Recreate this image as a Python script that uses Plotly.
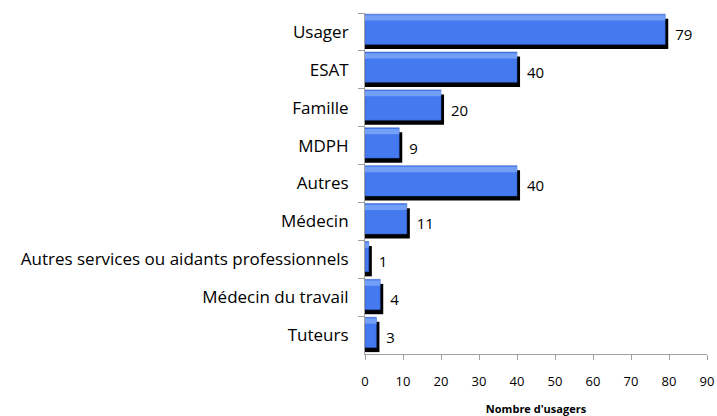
import plotly.graph_objects as go

categories = ["Usager", "ESAT", "Famille", "MDPH", "Autres", "Médecin",
              "Autres services ou aidants professionnels", "Médecin du travail", "Tuteurs"]
values = [79, 40, 20, 9, 40, 11, 1, 4, 3]
x_ticks = [0, 10, 20, 30, 40, 50, 60, 70, 80, 90]

font = "Open Sans, Liberation Sans, sans-serif"
w = 0.8
top = -0.47

fig = go.Figure()

# shadow, shifted right and down
fig.add_trace(go.Bar(
    y=categories, x=[v + 0.8 for v in values], orientation="h",
    width=w, offset=top + 0.12,
    marker=dict(color="black", line=dict(width=0)),
    text=[" " + str(v) for v in values], textposition="outside",
    textfont=dict(family=font, size=15, color="black"),
    cliponaxis=False, hoverinfo="skip",
))

# main bar
fig.add_trace(go.Bar(
    y=categories, x=values, orientation="h",
    width=w, offset=top,
    marker=dict(color="#4479F0", line=dict(width=0.5, color="#2F5BC0")),
))

# light strip on top for the bevel look
fig.add_trace(go.Bar(
    y=categories, x=values, orientation="h",
    width=0.14, offset=top + 0.03,
    marker=dict(color="#739FF6", line=dict(width=0)),
    hoverinfo="skip",
))

fig.update_layout(
    width=717, height=416,
    margin=dict(l=365, r=10, t=13, b=62),
    barmode="overlay",
    showlegend=False,
    plot_bgcolor="white", paper_bgcolor="white",
    font=dict(family=font, size=13, color="black"),
    xaxis=dict(
        range=[0, 90], tickvals=x_ticks, showgrid=False, zeroline=False,
        showline=True, linecolor="#A0A0A0", linewidth=1,
        ticks="outside", ticklen=5, tickcolor="#A0A0A0",
        tickfont=dict(size=13), ticklabelstandoff=10,
        title=dict(text="<b>Nombre d'usagers</b>", font=dict(size=11), standoff=16),
        automargin=False,
    ),
    yaxis=dict(
        autorange="reversed", showgrid=False, zeroline=False,
        showline=True, linecolor="#A0A0A0", linewidth=1,
        ticks="outside", ticklen=6, tickcolor="#A0A0A0", tickson="boundaries",
        tickfont=dict(size=17), ticklabelstandoff=12,
        automargin=False,
    ),
)

# drop the default page margin so the figure fills the window
fig.write_html("out.html", config={"displayModeBar": False},
               post_script="document.body.style.margin='0';document.body.style.overflow='hidden';")
